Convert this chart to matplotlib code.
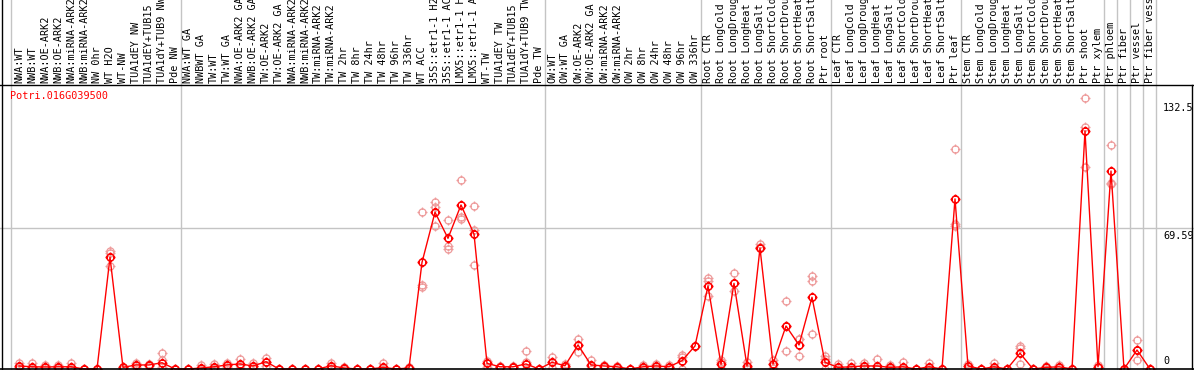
import matplotlib
matplotlib.use('Agg')
import matplotlib.pyplot as plt
from matplotlib.path import Path
from matplotlib.lines import Line2D
from matplotlib.transforms import blended_transform_factory

plt.rcParams['font.family'] = ['DejaVu Sans Mono']

GENE = 'Potri.016G039500'

SAMPLES = [
    'NWA:WT', 'NWB:WT', 'NWA:OE-ARK2', 'NWB:OE-ARK2', 'NWA:miRNA-ARK2', 'NWB:miRNA-ARK2',
    'NW 0hr', 'WT H2O', 'WT-NW', 'TUA1dEY NW', 'TUA1dEY+TUB15', 'TUA1dY+TUB9 NW', 'Pde NW',
    'NWA:WT GA', 'NWBWT GA', 'TW:WT', 'TW:WT GA', 'NWA:OE-ARK2 GA', 'NWB:OE-ARK2 GA',
    'TW:OE-ARK2', 'TW:OE-ARK2 GA', 'NWA:miRNA-ARK2', 'NWB:miRNA-ARK2', 'TW:miRNA-ARK2',
    'TW:miRNA-ARK2', 'TW 2hr', 'TW 8hr', 'TW 24hr', 'TW 48hr', 'TW 96hr', 'TW 336hr',
    'WT ACC', '35S::etr1-1 H2O', '35S::etr1-1 ACC', 'LMX5::etr1-1 H2O', 'LMX5::etr1-1 ACC',
    'WT-TW', 'TUA1dEY TW', 'TUA1dEY+TUB15', 'TUA1dY+TUB9 TW', 'Pde TW',
    'OW:WT', 'OW:WT GA', 'OW:OE-ARK2', 'OW:OE-ARK2 GA', 'OW:miRNA-ARK2', 'OW:miRNA-ARK2',
    'OW 2hr', 'OW 8hr', 'OW 24hr', 'OW 48hr', 'OW 96hr', 'OW 336hr',
    'Root CTR', 'Root LongCold', 'Root LongDrought', 'Root LongHeat', 'Root LongSalt',
    'Root ShortCold', 'Root ShortDrought', 'Root ShortHeat', 'Root ShortSalt', 'Ptr root',
    'Leaf CTR', 'Leaf LongCold', 'Leaf LongDrought', 'Leaf LongHeat', 'Leaf LongSalt',
    'Leaf ShortCold', 'Leaf ShortDrought', 'Leaf ShortHeat', 'Leaf ShortSalt', 'Ptr leaf',
    'Stem CTR', 'Stem LongCold', 'Stem LongDrought', 'Stem LongHeat', 'Stem LongSalt',
    'Stem ShortCold', 'Stem ShortDrought', 'Stem ShortHeat', 'Stem ShortSalt', 'Ptr shoot',
    'Ptr xylem', 'Ptr phloem', 'Ptr fiber', 'Ptr vessel', 'Ptr fiber vessel',
]

# mean expression per sample
MEANS = [
    1.5, 1.1, 1.0, 1.1, 1.1, 0, 0, 55.3, 0.8, 2.0, 2.0, 3.1, 0,
    0, 0.5, 1.1, 2.0, 2.5, 1.5, 3.6, 0, 0, 0, 0, 1.6, 0.5, 0, 0, 0.8, 0, 0.5,
    52.8, 77.6, 64.7, 81.2, 66.8, 2.8, 1.1, 1.1, 2.5, 0,
    3.3, 1.6, 11.9, 2.0, 1.5, 1.1, 0, 1.1, 1.5, 1.1, 4.1, 11.4,
    41.1, 2.3, 42.4, 1.5, 59.8, 2.5, 21.3, 11.9, 35.5, 3.3,
    0.8, 1.1, 1.5, 1.5, 0.8, 1.1, 0, 1.1, 0, 84.2,
    1.5, 0, 1.1, 0, 7.8, 0, 0.8, 1.1, 0, 117.8,
    1.1, 98.0, 0, 9.4, 0,
]

# individual replicates per sample
REPS = [
    [3.0, 1.0, 0.5], [3.1, 0.3, 0], [2.0, 1.0, 0], [2.0, 1.0, 0.3], [3.1, 0.2, 0], [0, 0, 0], [0, 0, 0],
    [58.6, 57.6, 51.0], [0.8, 0.5, 0], [3.0, 2.0, 1.0], [2.5, 2.0, 1.5], [7.8, 4.5, 1.0], [0, 0, 0],
    [0, 0, 0], [2.0, 0, 0], [2.5, 0.5, 0], [2.8, 2.0, 1.0], [5.0, 2.0, 0.5], [2.8, 1.5, 0.3],
    [5.6, 3.5, 1.5], [0, 0, 0], [0, 0, 0], [0, 0, 0], [0, 0, 0], [3.1, 1.5, 0.3], [1.0, 0.5, 0],
    [0, 0, 0], [0, 0, 0], [2.8, 0.5, 0], [0, 0, 0], [1.0, 0.5, 0],
    [77.6, 41.6, 40.4], [82.5, 80.3, 70.8], [73.8, 60.9, 59.6], [93.6, 75.4, 74.1], [80.7, 68.8, 51.3],
    [4.1, 3.1, 1.2], [1.5, 1.0, 0.8], [1.5, 1.0, 0.8], [8.8, 3.6, 0], [0, 0, 0],
    [6.1, 3.3, 0.5], [2.5, 1.6, 0.8], [14.9, 11.9, 8.6], [4.5, 1.5, 0], [2.0, 1.5, 1.0],
    [1.5, 1.1, 0.7], [0, 0, 0], [2.0, 1.1, 0.3], [2.5, 1.5, 0.5], [2.0, 1.1, 0.3], [6.9, 5.8, 0],
    [11.4, 11.4, 11.4],
    [44.9, 43.7, 36.1], [4.5, 3.6, 0], [47.4, 42.4, 38.8], [3.6, 1.0, 0], [61.9, 60.5, 59.8],
    [4.5, 2.5, 0.5], [33.7, 21.3, 9.1], [14.7, 14.7, 6.4], [46.0, 43.7, 17.2], [6.4, 4.8, 0],
    [2.5, 0.8, 0], [3.1, 0.5, 0], [2.8, 1.5, 0.3], [4.8, 0.5, 0], [2.0, 0.5, 0], [3.6, 0.5, 0],
    [0, 0, 0], [3.1, 0.5, 0], [0, 0, 0], [108.8, 71.6, 70.8],
    [2.5, 1.5, 0.5], [0, 0, 0], [2.8, 0.5, 0], [0, 0, 0], [11.4, 10.2, 2.5], [0, 0, 0],
    [1.5, 0.8, 0], [2.0, 1.1, 0.3], [0, 0, 0], [134.0, 120.0, 99.9],
    [1.8, 1.1, 0.5], [110.9, 92.2, 91.6], [0, 0, 0], [14.4, 9.4, 4.5], [0, 0, 0],
]

# group separators: placed after these sample indices (-1 = left edge)
GROUP_ENDS = [-1, 12, 40, 52, 62, 72, 83, 84, 85, 86, 87]
Y_LABELS = [132.5, 69.59, 0]

W, H = 1194, 370
COL0, COLW = 19, 13       # pixel x of first column, column spacing
TOP, BOT = 85, 369        # plot area in pixels (from top)
PX_PER_UNIT = 2.02

RED = '#ff0000'
PINK = '#ee9c9c'
GRID = '#c4c4c4'

fig = plt.figure(figsize=(W / 100, H / 100), dpi=100)
ax = fig.add_axes([0, (H - BOT) / H, 1, (BOT - TOP) / H])
ax.set_xlim(-COL0 / COLW, (W - COL0) / COLW)
ax.set_ylim(0, (BOT - TOP) / PX_PER_UNIT)
ax.axis('off')

# marker: open circle with four little ticks
ticks = Path([(0.75, 0), (1.4, 0), (-0.75, 0), (-1.4, 0), (0, 0.75), (0, 1.4), (0, -0.75), (0, -1.4)],
             [Path.MOVETO, Path.LINETO] * 4)
mark = Path.make_compound_path(Path.unit_circle(), ticks)

xs = list(range(len(SAMPLES)))
top_frac = BOT / (BOT - TOP)  # axes fraction reaching figure top

for g in GROUP_ENDS:
    ax.axvline(g + 0.5 - 1 / COLW, ymin=0, ymax=top_frac, color=GRID, lw=1, clip_on=False, zorder=1)
ax.axhline(69.59, color=GRID, lw=1, zorder=1)

for i, reps in enumerate(REPS):
    ax.plot([i] * len(reps), reps, linestyle='none', marker=mark, ms=7.2, mfc='none',
            mec=PINK, mew=0.9, clip_on=False, zorder=2)
ax.plot(xs, MEANS, color=RED, lw=1, zorder=3, clip_on=False)
ax.plot(xs, MEANS, linestyle='none', marker=mark, ms=7.2, mfc='none', mec=RED, mew=1.1,
        clip_on=False, zorder=4)

# sample labels above the plot
lab_tr = blended_transform_factory(ax.transData, fig.transFigure)
for i, s in enumerate(SAMPLES):
    ax.text(i, 1 - 83 / H, s, transform=lab_tr, rotation=90, ha='center', va='bottom',
            fontsize=7.3, color='black', clip_on=False)

# value labels on the right
x_lab = (1163 - COL0) / COLW
for v in Y_LABELS:
    if v == 0:
        ax.annotate('0', xy=(x_lab, v), xytext=(0, 2.5), textcoords='offset points',
                    ha='left', va='bottom', fontsize=7.3)
    else:
        ax.annotate(f'{v:g}', xy=(x_lab, v), xytext=(0, -1.5), textcoords='offset points',
                    ha='left', va='top', fontsize=7.3)

fig.text(10 / W, 1 - 91 / H, GENE, color=RED, fontsize=7.3, ha='left', va='top')

# black frame lines
def fx(x):
    return x / W

def fy(y):
    return 1 - y / H

fig.add_artist(Line2D([0, 1], [fy(TOP), fy(TOP)], color='black', lw=1))
fig.add_artist(Line2D([0, 1], [fy(BOT), fy(BOT)], color='black', lw=1.2))
fig.add_artist(Line2D([fx(1.5), fx(1.5)], [0, 1], color='black', lw=1))
fig.add_artist(Line2D([fx(1192), fx(1192)], [fy(BOT), fy(TOP)], color='black', lw=1))

fig.savefig('out.png', dpi=100)
